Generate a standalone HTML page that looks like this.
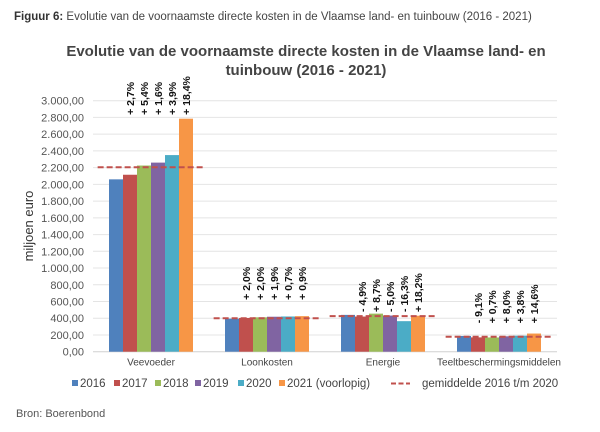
<!DOCTYPE html>
<html><head><meta charset="utf-8"><style>
body{margin:0;background:#fff;width:600px;height:427px;overflow:hidden;font-family:"Liberation Sans",sans-serif}
</style></head><body>
<svg id="chart" width="600" height="427" xmlns="http://www.w3.org/2000/svg" font-family="Liberation Sans, sans-serif">
<text x="14" y="20" font-size="11.5" fill="#444"><tspan font-weight="bold" fill="#333">Figuur 6:</tspan> Evolutie van de voornaamste directe kosten in de Vlaamse land- en tuinbouw (2016 - 2021)</text>
<text x="306" y="56" font-size="15" font-weight="bold" fill="#444" text-anchor="middle">Evolutie van de voornaamste directe kosten in de Vlaamse land- en</text>
<text x="306" y="75" font-size="15" font-weight="bold" fill="#444" text-anchor="middle">tuinbouw (2016 - 2021)</text>
<text transform="translate(33,226) rotate(-90)" font-size="13" fill="#333" text-anchor="middle">miljoen euro</text>
<g id="grid"></g><g id="bars"></g><g id="labels"></g>
<text x="16" y="417" font-size="11" fill="#555">Bron: Boerenbond</text>
</svg>
<script>
const categories=["Veevoeder","Loonkosten","Energie","Teeltbeschermingsmiddelen"];
const years=["2016","2017","2018","2019","2020","2021 (voorlopig)"];
const colors=["#4f81bd","#c0504d","#9bbb59","#8064a2","#4bacc6","#f79646"];
const v2016=[2060,395,440,188];
const v2017=[2115,403,420,171];
const v2018=[2225,411,455,170];
const v2019=[2260,418,432,184];
const v2020=[2350,421,365,191];
const v2021=[2785,425,430,217];
const averages=[2205,400,425,178];
const pct2017=["+ 2,7%","+ 2,0%","- 4,9%","- 9,1%"];
const pct2018=["+ 5,4%","+ 2,0%","+ 8,7%","+ 0,7%"];
const pct2019=["+ 1,6%","+ 1,9%","- 5,0%","+ 8,0%"];
const pct2020=["+ 3,9%","+ 0,7%","- 16,3%","+ 3,8%"];
const pct2021=["+ 18,4%","+ 0,9%","+ 18,2%","+ 14,6%"];
const labelBase=[2830,620,475,340];
const yTicks=[0,200,400,600,800,1000,1200,1400,1600,1800,2000,2200,2400,2600,2800,3000];
const yTickLabels=["0,00","200,00","400,00","600,00","800,00","1.000,00","1.200,00","1.400,00","1.600,00","1.800,00","2.000,00","2.200,00","2.400,00","2.600,00","2.800,00","3.000,00"];
const series=[v2016,v2017,v2018,v2019,v2020,v2021];
const pcts=[null,pct2017,pct2018,pct2019,pct2020,pct2021];
const NS="http://www.w3.org/2000/svg";
const L=93,R=557,T=100.7,B=351.7,yMax=3000;
const y=v=>B-(B-T)*v/yMax;
const gw=(R-L)/categories.length, bw=14;
const gx=i=>L+gw*(i+0.5);
function mk(tag,parent,attrs){const e=document.createElementNS(NS,tag);for(const k in attrs)e.setAttribute(k,attrs[k]);parent.appendChild(e);return e;}
const grid=document.getElementById('grid'),bars=document.getElementById('bars'),labs=document.getElementById('labels'),svg=document.getElementById('chart');
yTicks.forEach((t,i)=>{
 const ln=mk('line',grid,{x1:L,x2:R,y1:y(t),y2:y(t),stroke:i==0?'#d0d0d0':'#e4e4e4','stroke-width':1});
 
 
 const tx=mk('text',grid,{x:L-9,y:y(t)+4,'font-size':11,fill:'#555','text-anchor':'end'});
 tx.textContent=yTickLabels[i];
 
 
});
categories.forEach((c,ci)=>{
 const cx=gx(ci);
 series.forEach((s,si)=>{
  const x=cx-3*bw+si*bw;
  const r=mk('rect',bars,{x:x,y:y(s[ci]),width:bw,height:B-y(s[ci]),fill:colors[si]});
  
  
  if(pcts[si]){
   const tx=mk('text',labs,{transform:`translate(${x+bw/2+4},${y(labelBase[ci])}) rotate(-90)`,'font-size':10.5,'font-weight':'bold',fill:'#111'});
   tx.textContent=pcts[si][ci];
   
   
  }
 });
 const av=mk('line',labs,{x1:cx-gw*0.46,x2:cx+gw*0.46,y1:y(averages[ci]),y2:y(averages[ci]),stroke:'#c0504d','stroke-width':2,'stroke-dasharray':'6,3'});
 
 
 const ct=mk('text',labs,{x:cx,y:B+14,'font-size':10,fill:'#444','text-anchor':'middle'});
 ct.textContent=c;
 
 
});
const legX=[72,114,155,195,238,279];
years.forEach((yr,i)=>{
 const g=mk('g',svg,{});
 
 
 mk('rect',g,{x:legX[i],y:380,width:6,height:6,fill:colors[i]});
 const t=mk('text',g,{x:legX[i]+8,y:387,'font-size':11.5,fill:'#444'});t.textContent=yr;
});
const lg=mk('g',svg,{});


mk('line',lg,{x1:391,x2:410,y1:383.5,y2:383.5,stroke:'#c0504d','stroke-width':2,'stroke-dasharray':'5,2.5'});
const lt=mk('text',lg,{x:422,y:387,'font-size':11.5,fill:'#444'});lt.textContent='gemiddelde 2016 t/m 2020';
</script>
</body></html>
